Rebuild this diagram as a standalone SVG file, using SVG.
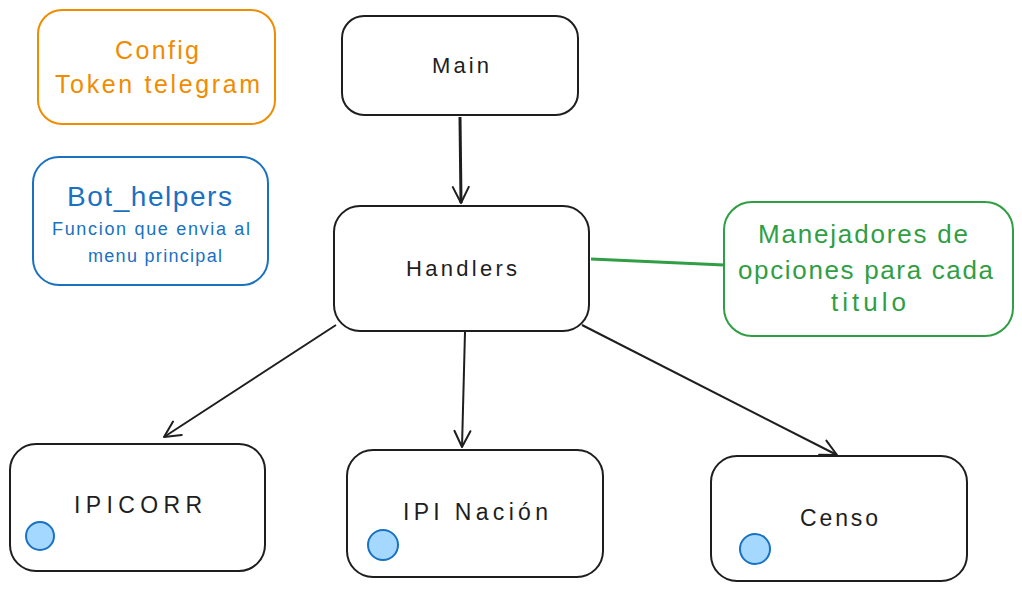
<svg xmlns="http://www.w3.org/2000/svg" width="1022" height="592" viewBox="0 0 1022 592">
<defs>
<marker id="ah" viewBox="0 0 20 20" refX="18" refY="10" markerWidth="20" markerHeight="20" markerUnits="userSpaceOnUse" orient="auto">
<path d="M2,2 L18,10 L2,18" fill="none" stroke="#1e1e1e" stroke-width="2" stroke-linecap="round" stroke-linejoin="round"/>
</marker>
<style>
.box{fill:#fff;stroke:#1e1e1e;stroke-width:2}
.t{font-family:"Liberation Sans",Arial,sans-serif;fill:#1e1e1e;text-anchor:middle;dominant-baseline:central}
.dot{fill:#a5d8ff;stroke:#1971c2;stroke-width:2}
.con{stroke:#1e1e1e;stroke-width:2;fill:none;marker-end:url(#ah)}
</style>
</defs>
<rect width="1022" height="592" fill="#fff"/>
<g id="config">
<rect x="38" y="10" width="237" height="114" rx="24" fill="none" stroke="#f08c00" stroke-width="2"/>
<text class="t" x="157" y="50" font-size="25" textLength="84" lengthAdjust="spacing" style="fill:#f08c00">Config</text>
<text class="t" x="157.5" y="84" font-size="25" textLength="205" lengthAdjust="spacing" style="fill:#f08c00">Token telegram</text>
</g>
<g id="bot_helpers">
<rect x="33" y="157" width="235" height="128" rx="26" fill="none" stroke="#1971c2" stroke-width="2"/>
<text class="t" x="149.5" y="196" font-size="28" textLength="165" lengthAdjust="spacing" style="fill:#1971c2">Bot_helpers</text>
<text class="t" x="151" y="229" font-size="18" textLength="198" lengthAdjust="spacing" style="fill:#1971c2">Funcion que envia al</text>
<text class="t" x="155" y="256" font-size="18" textLength="134" lengthAdjust="spacing" style="fill:#1971c2">menu principal</text>
</g>
<g id="main">
<rect class="box" x="342" y="16" width="236" height="99" rx="22"/>
<text class="t" x="460.5" y="65" font-size="22" textLength="57" lengthAdjust="spacing">Main</text>
</g>
<g id="handlers">
<rect class="box" x="334" y="206" width="255" height="125" rx="26"/>
<text class="t" x="461.5" y="268" font-size="22" textLength="111" lengthAdjust="spacing">Handlers</text>
</g>
<g id="manejadores">
<rect x="724" y="202" width="289" height="134" rx="28" fill="none" stroke="#2f9e44" stroke-width="2"/>
<text class="t" x="863" y="234" font-size="26" textLength="210" lengthAdjust="spacing" style="fill:#2f9e44">Manejadores de</text>
<text class="t" x="865.5" y="270" font-size="26" textLength="255" lengthAdjust="spacing" style="fill:#2f9e44">opciones para cada</text>
<text class="t" x="868.5" y="302" font-size="26" textLength="75" lengthAdjust="spacing" style="fill:#2f9e44">titulo</text>
</g>
<g id="ipicorr">
<rect class="box" x="10" y="444" width="255" height="127" rx="26"/>
<text class="t" x="138" y="505" font-size="23" textLength="128" lengthAdjust="spacing">IPICORR</text>
<circle class="dot" cx="40" cy="536" r="14"/>
</g>
<g id="ipi_nacion">
<rect class="box" x="347" y="450" width="256" height="127" rx="26"/>
<text class="t" x="475.5" y="512" font-size="23" textLength="145" lengthAdjust="spacing">IPI Nación</text>
<circle class="dot" cx="383" cy="545" r="15"/>
</g>
<g id="censo">
<rect class="box" x="711" y="456" width="256" height="125" rx="26"/>
<text class="t" x="839" y="518" font-size="23" textLength="78" lengthAdjust="spacing">Censo</text>
<circle class="dot" cx="755" cy="549" r="15"/>
</g>
<g id="connectors">
<line x1="460" y1="117" x2="461" y2="203" class="con" style="stroke-width:3"/>
<line x1="336" y1="325" x2="164" y2="437" class="con"/>
<line x1="465" y1="332" x2="462" y2="447" class="con"/>
<line x1="582" y1="325" x2="837" y2="455" class="con"/>
<line x1="591" y1="259" x2="724" y2="265" stroke="#2f9e44" stroke-width="3"/>
</g>
</svg>
